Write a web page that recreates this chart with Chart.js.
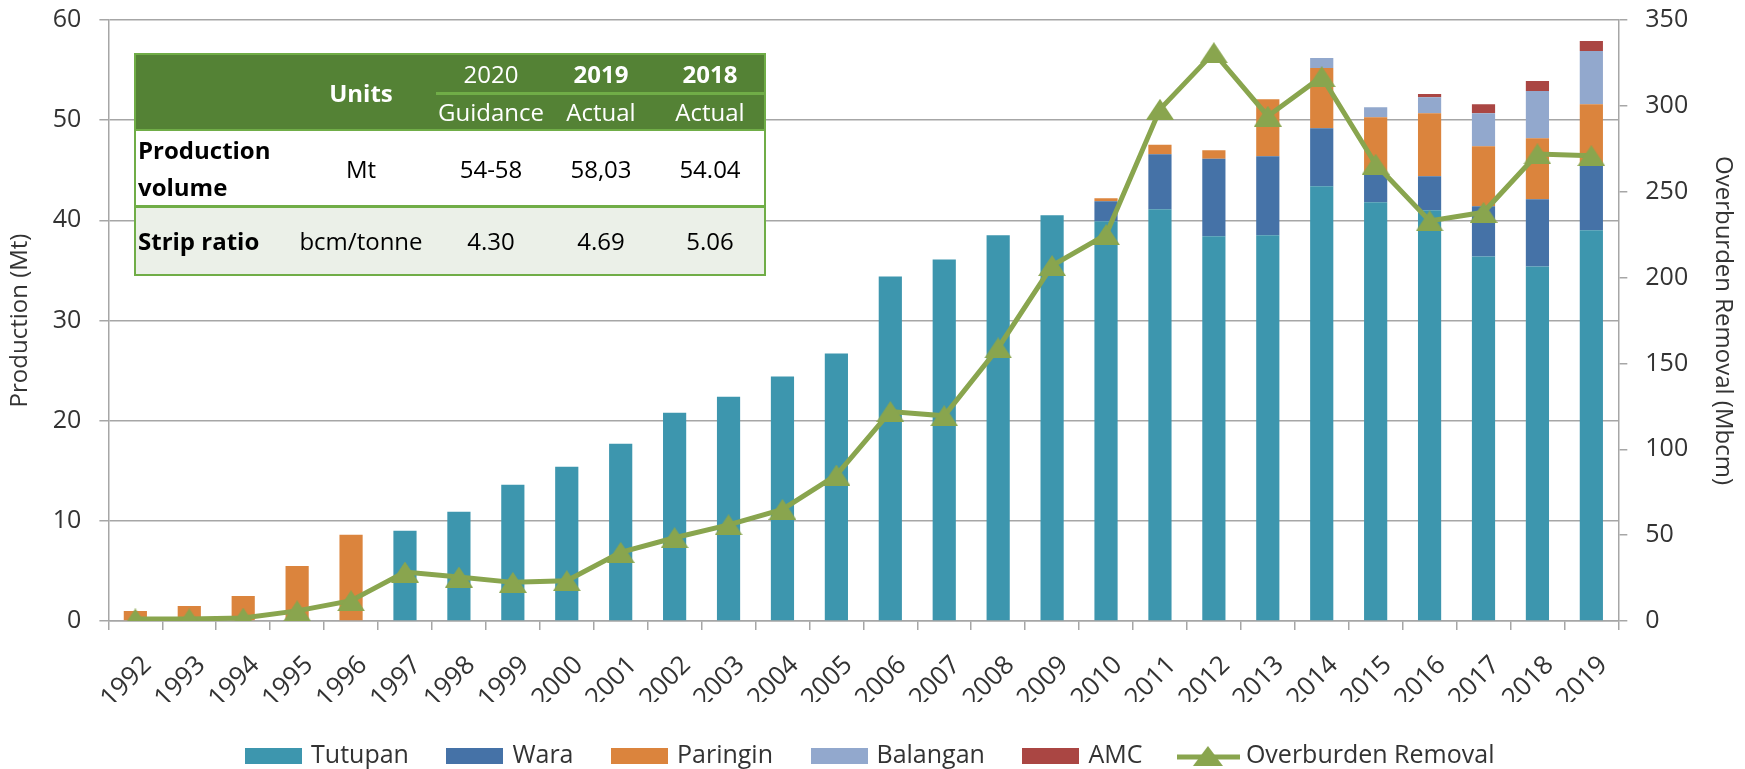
<!DOCTYPE html>
<html>
<head>
<meta charset="utf-8">
<script src="https://cdn.jsdelivr.net/npm/chart.js@4"></script>
<style>
  body { margin: 0; background: #fff; overflow: hidden; }
  #wrap { position: relative; width: 1745px; height: 769px; }
  #guide {
    position: absolute; left: 134px; top: 53px;
    border-collapse: collapse; table-layout: fixed;
    font-family: "Open Sans", sans-serif; font-size: 24px;
    border: 2px solid #70AD47;
  }
  #guide td { padding: 0; text-align: center; vertical-align: middle; white-space: nowrap; }
  #guide .hd td { background: #548235; color: #fff; }
  #guide .sub { border-bottom: 3px solid #70AD47; }
  #guide .lbl { text-align: left; padding-left: 2px; font-weight: bold; line-height: 37px; white-space: normal; }
  #guide .b { font-weight: bold; }
  #guide .r1 td { background: #fff; border-top: 2px solid #70AD47; border-bottom: 3px solid #70AD47; }
  #guide .r2 td { background: #EBF0E8; }
</style>
</head>
<body>
<div id="wrap">
  <canvas id="prodChart" width="1745" height="769"></canvas>
  <table id="guide">
    <colgroup>
      <col style="width:151px"><col style="width:150px"><col style="width:110px"><col style="width:110px"><col style="width:109px">
    </colgroup>
    <tr class="hd" style="height:39px">
      <td rowspan="2"></td>
      <td rowspan="2" class="b">Units</td>
      <td class="sub">2020</td>
      <td class="sub b">2019</td>
      <td class="sub b">2018</td>
    </tr>
    <tr class="hd" style="height:37px">
      <td>Guidance</td><td>Actual</td><td>Actual</td>
    </tr>
    <tr class="r1" style="height:71px">
      <td class="lbl">Production volume</td><td>Mt</td><td>54-58</td><td>58,03</td><td>54.04</td>
    </tr>
    <tr class="r2" style="height:68px">
      <td class="lbl">Strip ratio</td><td>bcm/tonne</td><td>4.30</td><td>4.69</td><td>5.06</td>
    </tr>
  </table>
</div>
<script>
// chart data
const years = ["1992","1993","1994","1995","1996","1997","1998","1999","2000","2001",
  "2002","2003","2004","2005","2006","2007","2008","2009","2010","2011",
  "2012","2013","2014","2015","2016","2017","2018","2019"];

const tutupan  = [0, 0, 0, 0, 0, 9.0, 10.9, 13.6, 15.4, 17.7, 20.8, 22.4, 24.4, 26.7, 34.4, 36.1,
  38.5, 40.5, 39.9, 41.1, 38.4, 38.5, 43.4, 41.8, 41.0, 36.4, 35.4, 39.0];
const wara     = [0, 0, 0, 0, 0, 0, 0, 0, 0, 0, 0, 0, 0, 0, 0, 0,
  0, 0, 2.0, 5.5, 7.75, 7.9, 5.8, 2.8, 3.4, 5.0, 6.7, 6.5];
const paringin = [1.0, 1.5, 2.5, 5.5, 8.6, 0, 0, 0, 0, 0, 0, 0, 0, 0, 0, 0,
  0, 0, 0.3, 0.95, 0.85, 5.7, 6.0, 5.7, 6.3, 6.0, 6.1, 6.1];
const balangan = [0, 0, 0, 0, 0, 0, 0, 0, 0, 0, 0, 0, 0, 0, 0, 0,
  0, 0, 0, 0, 0, 0, 1.0, 1.0, 1.6, 3.3, 4.7, 5.3];
const amc      = [0, 0, 0, 0, 0, 0, 0, 0, 0, 0, 0, 0, 0, 0, 0, 0,
  0, 0, 0, 0, 0, 0, 0, 0, 0.3, 0.9, 1.0, 1.0];
const overburden = [1.2, 1.2, 1.7, 5.9, 11.8, 28.5, 25.6, 22.5, 23.5, 40, 48.5, 56, 65, 85, 122, 119.5,
  159, 207, 225, 298, 331, 294, 317, 266, 233, 238, 272, 271];

const prodTicks = { min: 0, max: 60, step: 10 };
const obTicks = { min: 0, max: 350, step: 50 };

const colors = {
  tutupan: "#3D96AE", wara: "#4572A7", paringin: "#DB843D",
  balangan: "#92A8CD", amc: "#AA4643", line: "#89A54E"
};
const gridGrey = "#A6A6A6";
const textGrey = "#333333";

Chart.defaults.font.family = "'Open Sans', sans-serif";
Chart.defaults.color = textGrey;

// marker: a triangle a bit wider than tall
function triangleIcon(w, h) {
  const c = document.createElement("canvas");
  c.width = w; c.height = h;
  const ctx = c.getContext("2d");
  ctx.fillStyle = colors.line;
  ctx.beginPath();
  ctx.moveTo(w / 2, 0);
  ctx.lineTo(w, h);
  ctx.lineTo(0, h);
  ctx.closePath();
  ctx.fill();
  return c;
}

function boxIcon(color) {
  const c = document.createElement("canvas");
  c.width = 57; c.height = 16;
  const ctx = c.getContext("2d");
  ctx.fillStyle = color;
  ctx.fillRect(0, 0, 57, 16);
  return c;
}

function lineIcon() {
  const c = document.createElement("canvas");
  c.width = 63; c.height = 21;
  const ctx = c.getContext("2d");
  ctx.strokeStyle = colors.line;
  ctx.lineWidth = 5;
  ctx.beginPath();
  ctx.moveTo(0, 12);
  ctx.lineTo(63, 12);
  ctx.stroke();
  ctx.drawImage(triangleIcon(30, 20), 16, 1);
  return c;
}

const marker = triangleIcon(28, 21);
const legendIcons = [boxIcon(colors.tutupan), boxIcon(colors.wara), boxIcon(colors.paringin),
  boxIcon(colors.balangan), boxIcon(colors.amc), lineIcon()];

function barSet(label, data, color) {
  return {
    type: "bar", label, data, backgroundColor: color,
    yAxisID: "y", stack: "prod",
    categoryPercentage: 1, barPercentage: 0.43
  };
}

// small line height so the top label does not push the plot down
const yTickFont = { size: 25, lineHeight: 0.16 };

const ctx = document.getElementById("prodChart").getContext("2d");
const prodChart = new Chart(ctx, {
  data: {
    labels: years,
    datasets: [
      barSet("Tutupan", tutupan, colors.tutupan),
      barSet("Wara", wara, colors.wara),
      barSet("Paringin", paringin, colors.paringin),
      barSet("Balangan", balangan, colors.balangan),
      barSet("AMC", amc, colors.amc),
      {
        type: "line", label: "Overburden Removal", data: overburden,
        yAxisID: "y1", order: -1,
        borderColor: colors.line, backgroundColor: colors.line,
        borderWidth: 5, tension: 0,
        pointStyle: marker, pointRadius: 10
      }
    ]
  },
  options: {
    responsive: false,
    devicePixelRatio: 1,
    animation: false,
    layout: { padding: { left: 6, right: 8, top: 5, bottom: 0 } },
    plugins: {
      tooltip: { enabled: false },
      legend: {
        position: "bottom",
        maxHeight: 67,
        labels: {
          usePointStyle: true,
          pointStyleWidth: 50,
          boxHeight: 16,
          padding: 41,
          font: { size: 25 },
          color: textGrey,
          sort: (a, b) => a.datasetIndex - b.datasetIndex,
          generateLabels: (chart) =>
            Chart.defaults.plugins.legend.labels.generateLabels(chart).map((it) => ({
              ...it, pointStyle: legendIcons[it.datasetIndex]
            }))
        }
      }
    },
    scales: {
      x: {
        stacked: true,
        afterFit: (scale) => { scale.height = 81; },
        grid: { offset: true, drawOnChartArea: false, drawTicks: true, tickLength: 9, color: gridGrey, lineWidth: 1.5 },
        border: { color: gridGrey, width: 1.5 },
        ticks: { minRotation: 45, maxRotation: 45, autoSkip: false, font: { size: 26 }, color: textGrey, padding: 20, labelOffset: 12 }
      },
      y: {
        stacked: true, position: "left",
        min: prodTicks.min, max: prodTicks.max,
        ticks: { stepSize: prodTicks.step, font: yTickFont, color: textGrey, padding: 18 },
        grid: { color: gridGrey, lineWidth: 1.5, tickLength: 9 },
        border: { color: gridGrey, width: 1.5 },
        title: { display: true, text: "Production (Mt)", font: { size: 24 }, color: textGrey, padding: { top: 0, bottom: 0 } }
      },
      y1: {
        position: "right",
        min: obTicks.min, max: obTicks.max,
        ticks: { stepSize: obTicks.step, font: yTickFont, color: textGrey, padding: 18 },
        grid: { drawOnChartArea: false, color: gridGrey, lineWidth: 1.5, tickLength: 9 },
        border: { color: gridGrey, width: 1.5 },
        title: { display: true, text: "Overburden Removal (Mbcm)", font: { size: 24 }, color: textGrey, padding: { top: 0, bottom: 2 } }
      }
    }
  }
});
</script>
</body>
</html>
